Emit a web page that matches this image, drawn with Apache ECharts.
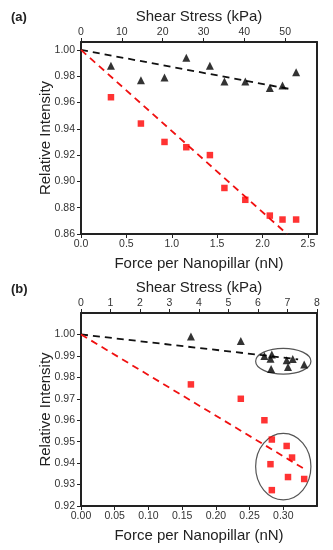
<!DOCTYPE html>
<html><head><meta charset="utf-8">
<script src="https://cdn.jsdelivr.net/npm/echarts@6/dist/echarts.min.js"></script>
<style>html,body{margin:0;padding:0;background:#fff}#c{width:333px;height:550px}</style>
</head><body><div id="c"></div>
<script>
// Panel (a)
const aForce = [0.33, 0.66, 0.92, 1.16, 1.42, 1.58, 1.81, 2.08, 2.22, 2.37];
const aBlack = [0.988, 0.977, 0.979, 0.994, 0.988, 0.976, 0.976, 0.971, 0.973, 0.983];
const aRed = [0.964, 0.944, 0.930, 0.926, 0.920, 0.895, 0.886, 0.874, 0.871, 0.871];
const aBlackFit = [[0, 1.0], [2.32, 0.970]];
const aRedFit = [[0, 1.0], [2.27, 0.86]];
// Panel (b)
const bBlackForce = [0.163, 0.237, 0.272, 0.283, 0.281, 0.282, 0.305, 0.307, 0.314, 0.331];
const bBlack = [0.999, 0.997, 0.990, 0.9907, 0.9887, 0.9839, 0.988, 0.9848, 0.9885, 0.986];
const bRedForce = [0.163, 0.237, 0.272, 0.283, 0.305, 0.313, 0.281, 0.307, 0.331, 0.283];
const bRed = [0.9767, 0.970, 0.960, 0.951, 0.948, 0.9426, 0.9395, 0.9335, 0.9326, 0.9274];
const bBlackFit = [[0, 1.0], [0.322, 0.9884]];
const bRedFit = [[0, 1.0], [0.329, 0.9377]];
// ellipses: [cx, cy, rx, ry] in data units
const bEllipses = [[0.300, 0.9875, 0.041, 0.006], [0.300, 0.9384, 0.041, 0.0155]];

const FONT = 'Liberation Sans, Arial, sans-serif';
const zip = (xs, ys) => xs.map((x, i) => [x, ys[i]]);

function xAxisBottom(grid, min, max, interval, dec) {
  return {
    gridIndex: grid, type: 'value', position: 'bottom', min, max, interval,
    name: 'Force per Nanopillar (nN)', nameLocation: 'middle', nameGap: 22, nameMoveOverlap: false,
    nameTextStyle: {fontSize: 15, color: '#222', fontFamily: FONT},
    axisLine: {onZero: false, lineStyle: {color: '#222', width: 2}},
    axisTick: {inside: false, length: 4, lineStyle: {color: '#222', width: 1}},
    axisLabel: {fontSize: 10.5, color: '#333', fontFamily: FONT, margin: 5, showMaxLabel: false,
      formatter: v => v.toFixed(dec)},
    splitLine: {show: false}
  };
}
function xAxisTop(grid, min, max, interval, gap) {
  return {
    gridIndex: grid, type: 'value', position: 'top', min, max, interval,
    name: 'Shear Stress (kPa)', nameLocation: 'middle', nameGap: gap, nameMoveOverlap: false,
    nameTextStyle: {fontSize: 15, color: '#222', fontFamily: FONT},
    axisLine: {onZero: false, lineStyle: {color: '#222', width: 2}},
    axisTick: {inside: false, length: 4, lineStyle: {color: '#222', width: 1}},
    axisLabel: {fontSize: 10.5, color: '#333', fontFamily: FONT, margin: 4, showMaxLabel: max % interval === 0,
      formatter: v => (Math.abs(v - Math.round(v / interval) * interval) < 1e-6 ? String(Math.round(v)) : '')},
    splitLine: {show: false}
  };
}
function yAxisLeft(grid, min, max, interval) {
  return {
    gridIndex: grid, type: 'value', position: 'left', min, max, interval,
    name: 'Relative Intensity', nameLocation: 'middle', nameGap: 28, nameMoveOverlap: false,
    nameTextStyle: {fontSize: 15, color: '#222', fontFamily: FONT},
    axisLine: {onZero: false, lineStyle: {color: '#222', width: 2}},
    axisTick: {inside: false, length: 4, lineStyle: {color: '#222', width: 1}},
    axisLabel: {fontSize: 10.5, color: '#333', fontFamily: FONT, margin: 6, showMaxLabel: false,
      formatter: v => v.toFixed(2)},
    splitLine: {show: false}
  };
}
function yAxisRight(grid, min, max) {
  return {
    gridIndex: grid, type: 'value', position: 'right', min, max,
    axisLine: {show: true, onZero: false, lineStyle: {color: '#222', width: 2}},
    axisTick: {show: false}, axisLabel: {show: false}, splitLine: {show: false}
  };
}
function scatter(xi, yi, data, symbol, size, color) {
  return {type: 'scatter', xAxisIndex: xi, yAxisIndex: yi, data, symbol, symbolSize: size,
    itemStyle: {color}, z: 5, silent: true};
}
function fit(xi, yi, data, color) {
  return {type: 'line', xAxisIndex: xi, yAxisIndex: yi, data, symbol: 'none', z: 4,
    lineStyle: {color, width: 1.8, type: [7, 5]}, silent: true};
}

const option = {
  backgroundColor: '#fff',
  animation: false,
  title: [
    {text: '(a)', left: 6, top: 6, textStyle: {fontSize: 13, fontWeight: 'bold', color: '#222', fontFamily: FONT}},
    {text: '(b)', left: 6, top: 278, textStyle: {fontSize: 13, fontWeight: 'bold', color: '#222', fontFamily: FONT}}
  ],
  grid: [
    {left: 81, top: 42, width: 236, height: 192},
    {left: 81, top: 313, width: 236, height: 193}
  ],
  xAxis: [
    xAxisBottom(0, 0, 2.6, 0.5, 1),
    xAxisTop(0, 0, 57.8, 10, 18),
    xAxisBottom(1, 0, 0.35, 0.05, 2),
    xAxisTop(1, 0, 8, 1, 18)
  ],
  yAxis: [
    yAxisLeft(0, 0.86, 1.006, 0.02),
    yAxisRight(0, 0.86, 1.006),
    yAxisLeft(1, 0.92, 1.01, 0.01),
    yAxisRight(1, 0.92, 1.01)
  ],
  series: [
    fit(0, 0, aBlackFit, '#111'),
    fit(0, 0, aRedFit, '#f01010'),
    scatter(0, 0, zip(aForce, aBlack), 'triangle', 8, '#000'),
    scatter(0, 0, zip(aForce, aRed), 'rect', 6.5, '#f00'),
    fit(2, 2, bBlackFit, '#111'),
    fit(2, 2, bRedFit, '#f01010'),
    scatter(2, 2, zip(bBlackForce, bBlack), 'triangle', 8, '#000'),
    scatter(2, 2, zip(bRedForce, bRed), 'rect', 6.5, '#f00'),
    {
      type: 'custom', xAxisIndex: 2, yAxisIndex: 2, data: bEllipses, z: 3, silent: true,
      renderItem: (params, api) => {
        const c = api.coord([api.value(0), api.value(1)]);
        const s = api.size([api.value(2), api.value(3)]);
        return {type: 'ellipse', shape: {cx: c[0], cy: c[1], rx: s[0], ry: s[1]},
          style: {fill: 'none', stroke: '#555', lineWidth: 1.2}};
      }
    }
  ]
};
const chart = echarts.init(document.getElementById('c'), null, {renderer: 'canvas'});
chart.setOption(option);
</script>
</body></html>
